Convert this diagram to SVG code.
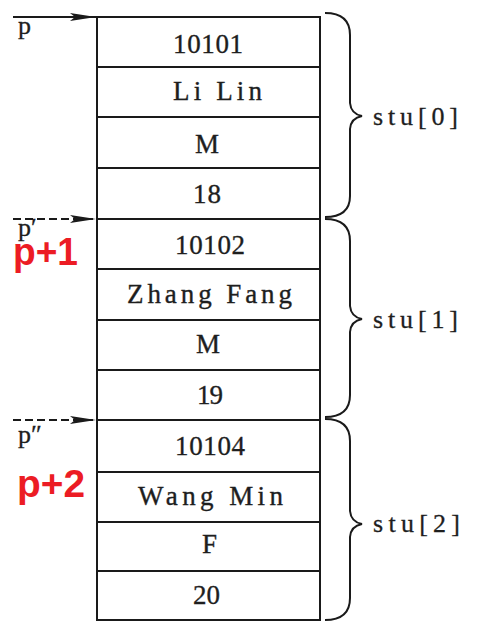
<svg xmlns="http://www.w3.org/2000/svg" width="479" height="640" viewBox="0 0 479 640">
<style>
.cell{fill:#fff;stroke:#1a1a1a;stroke-width:2}
.t{font-family:"Liberation Serif","Times New Roman",serif;font-size:27px;fill:#1e1e1e;stroke:#1e1e1e;stroke-width:0.35}
.s{font-family:"Liberation Serif","Times New Roman",serif;font-size:26px;fill:#1e1e1e;stroke:#1e1e1e;stroke-width:0.3}
.pl{font-family:"Liberation Serif","Times New Roman",serif;font-size:26px;fill:#1e1e1e;stroke:#1e1e1e;stroke-width:0.3}
.red{font-family:"Liberation Sans",Arial,sans-serif;font-weight:bold;font-size:38px;fill:#ec1c24}
.brace{fill:none;stroke:#1a1a1a;stroke-width:2}
.arr{stroke:#1a1a1a;stroke-width:2;fill:none}
.dash{stroke-dasharray:8 4}
</style>
<defs>
<marker id="ah" markerUnits="userSpaceOnUse" markerWidth="28" markerHeight="10" refX="26" refY="4" orient="auto">
<path d="M0,0 L26,4 L0,8 L5,4 z" fill="#1a1a1a"/>
</marker>
</defs>
<rect width="479" height="640" fill="#fff"/>

<g id="stu0">
<rect class="cell" x="97" y="17" width="223" height="50"/>
<rect class="cell" x="97" y="67" width="223" height="50"/>
<rect class="cell" x="97" y="117" width="223" height="51"/>
<rect class="cell" x="97" y="168" width="223" height="51"/>
<text class="t" x="173" y="53" textLength="70" lengthAdjust="spacing">10101</text>
<text class="t" x="173" y="100" textLength="89" lengthAdjust="spacing">Li Lin</text>
<text class="t" x="195" y="153">M</text>
<text class="t" x="193" y="203" textLength="28" lengthAdjust="spacing">18</text>
</g>
<g id="stu1">
<rect class="cell" x="97" y="219" width="223" height="50"/>
<rect class="cell" x="97" y="269" width="223" height="51"/>
<rect class="cell" x="97" y="320" width="223" height="50"/>
<rect class="cell" x="97" y="370" width="223" height="50"/>
<text class="t" x="175" y="254" textLength="70" lengthAdjust="spacing">10102</text>
<text class="t" x="127" y="303" textLength="165" lengthAdjust="spacing">Zhang Fang</text>
<text class="t" x="196" y="353">M</text>
<text class="t" x="197" y="404" textLength="26" lengthAdjust="spacing">19</text>
</g>
<g id="stu2">
<rect class="cell" x="97" y="420" width="223" height="52"/>
<rect class="cell" x="97" y="472" width="223" height="50"/>
<rect class="cell" x="97" y="522" width="223" height="49"/>
<rect class="cell" x="97" y="571" width="223" height="49"/>
<text class="t" x="175" y="455" textLength="70" lengthAdjust="spacing">10104</text>
<text class="t" x="138" y="505" textLength="145" lengthAdjust="spacing">Wang Min</text>
<text class="t" x="202" y="553">F</text>
<text class="t" x="193" y="604" textLength="27" lengthAdjust="spacing">20</text>
</g>

<g id="brace0">
<path class="brace" d="M325,13 Q350,13 350,35 L350,103 Q351,114 362,116 Q351,118 350,129 L350,196 Q350,217 325,217"/>
<text class="s" x="373" y="125" textLength="85" lengthAdjust="spacing">stu[0]</text>
</g>
<g id="brace1">
<path class="brace" d="M325,219 Q350,219 350,241 L350,306 Q351,317 362,319 Q351,321 350,332 L350,395 Q350,417 325,417"/>
<text class="s" x="373" y="328" textLength="85" lengthAdjust="spacing">stu[1]</text>
</g>
<g id="brace2">
<path class="brace" d="M325,419 Q350,419 350,441 L350,511 Q351,522 362,524 Q351,526 350,537 L350,598 Q350,620 325,620"/>
<text class="s" x="373" y="532" textLength="87" lengthAdjust="spacing">stu[2]</text>
</g>

<g id="connectors">
<line class="arr" x1="13" y1="17" x2="96" y2="17" marker-end="url(#ah)"/>
<line class="arr dash" x1="13" y1="219" x2="96" y2="219" marker-end="url(#ah)"/>
<line class="arr dash" x1="13" y1="420" x2="96" y2="420" marker-end="url(#ah)"/>
</g>

<g id="labels">
<text class="pl" x="18" y="34">p</text>
<text class="pl" x="18" y="236">p′</text>
<text class="pl" x="18" y="443">p″</text>
<text class="red" x="13" y="265" textLength="65" lengthAdjust="spacingAndGlyphs">p+1</text>
<text class="red" x="17" y="497" textLength="68" lengthAdjust="spacingAndGlyphs">p+2</text>
</g>
</svg>
